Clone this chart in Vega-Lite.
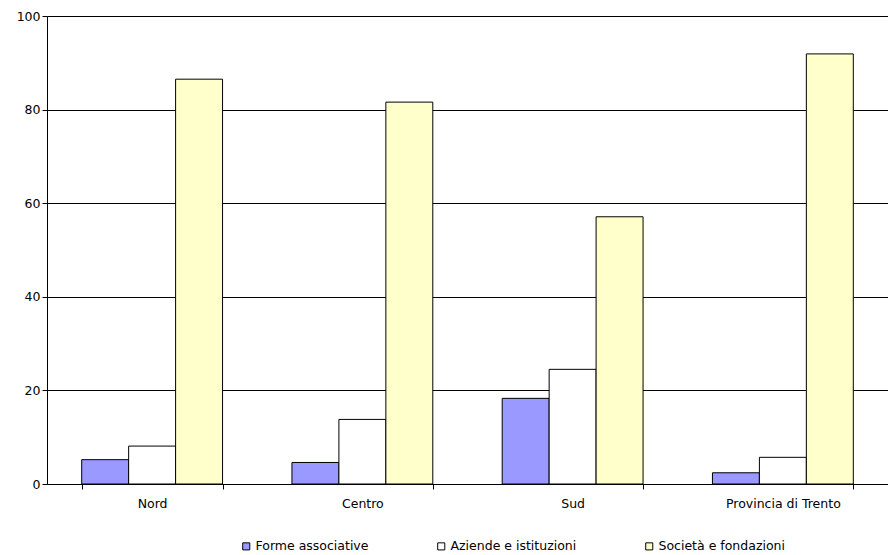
{
  "$schema": "https://vega.github.io/schema/vega-lite/v6.json",
  "width": 841,
  "height": 468,
  "autosize": "none",
  "padding": {"left": 47, "top": 16, "right": 0, "bottom": 71},
  "background": "white",
  "data": {
    "values": [
      {"area": "Nord", "tipo": "Forme associative", "valore": 5.2},
      {"area": "Nord", "tipo": "Aziende e istituzioni", "valore": 8.1},
      {"area": "Nord", "tipo": "Società e fondazioni", "valore": 86.5},
      {"area": "Centro", "tipo": "Forme associative", "valore": 4.6},
      {"area": "Centro", "tipo": "Aziende e istituzioni", "valore": 13.8},
      {"area": "Centro", "tipo": "Società e fondazioni", "valore": 81.6},
      {"area": "Sud", "tipo": "Forme associative", "valore": 18.3},
      {"area": "Sud", "tipo": "Aziende e istituzioni", "valore": 24.5},
      {"area": "Sud", "tipo": "Società e fondazioni", "valore": 57.1},
      {"area": "Provincia di Trento", "tipo": "Forme associative", "valore": 2.4},
      {"area": "Provincia di Trento", "tipo": "Aziende e istituzioni", "valore": 5.7},
      {"area": "Provincia di Trento", "tipo": "Società e fondazioni", "valore": 91.9}
    ]
  },
  "mark": {"type": "bar", "stroke": "black", "strokeWidth": 1},
  "encoding": {
    "x": {
      "field": "area", "type": "nominal", "sort": null, "title": null,
      "scale": {"paddingInner": 0.33, "paddingOuter": 0.165},
      "axis": {"labelAngle": 0, "tickBand": "extent", "domainColor": "black", "tickColor": "black", "labelPadding": 8}
    },
    "xOffset": {"field": "tipo", "type": "nominal", "sort": null, "scale": {"paddingInner": 0}},
    "y": {
      "field": "valore", "type": "quantitative", "title": null,
      "scale": {"domain": [0, 100], "nice": false},
      "axis": {"values": [0, 20, 40, 60, 80, 100], "gridColor": "black", "gridOpacity": 1, "domainColor": "black", "tickColor": "black"}
    },
    "fill": {
      "field": "tipo", "type": "nominal", "sort": null, "title": null,
      "scale": {
        "domain": ["Forme associative", "Aziende e istituzioni", "Società e fondazioni"],
        "range": ["#9999FF", "#FFFFFF", "#FFFFCC"]
      },
      "legend": {"orient": "none", "legendX": 193, "legendY": 524, "direction": "horizontal", "symbolType": "square", "symbolStrokeColor": "black", "symbolStrokeWidth": 1, "symbolSize": 50, "columnPadding": 66, "labelOffset": 3}
    }
  },
  "config": {
    "font": "DejaVu Sans",
    "view": {"stroke": null},
    "axis": {"labelFont": "DejaVu Sans", "labelFontSize": 12.5, "labelColor": "black", "ticks": true, "tickSize": 5},
    "legend": {"labelFont": "DejaVu Sans", "labelFontSize": 12.5, "labelColor": "black"}
  }
}
